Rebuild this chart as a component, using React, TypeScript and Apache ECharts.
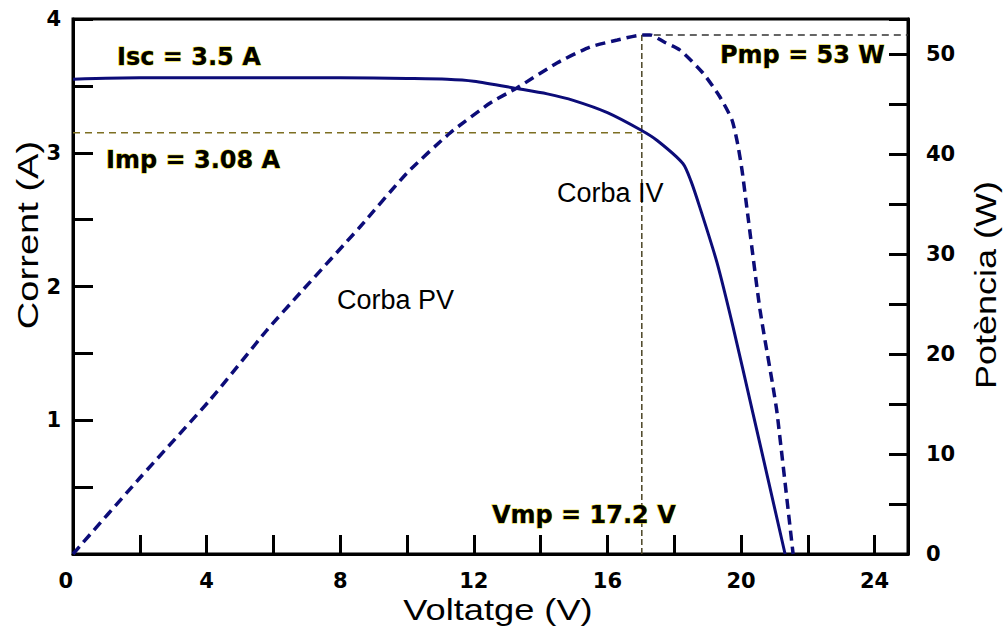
import React, { useEffect, useRef } from "react";
import * as echarts from "echarts";

// I-V curve (voltage in V, current in A)
const ivVoltage = [0, 2, 4, 6, 8, 10, 11.2, 12, 13.3, 14.2, 15, 16, 17, 17.5, 18.26, 18.5, 18.77, 19.28, 19.76, 20.36, 21.32];
const ivCurrent = [3.55, 3.56, 3.56, 3.56, 3.56, 3.555, 3.55, 3.535, 3.48, 3.44, 3.39, 3.3, 3.17, 3.09, 2.92, 2.79, 2.59, 2.18, 1.7, 1.05, 0];

// P-V curve (voltage in V, power in W)
const pvVoltage = [0, 2, 4.1, 5.81, 6.8, 8.59, 10, 11.29, 12.49, 13.29, 14.49, 15.48, 16.3, 17.04, 17.28, 17.7, 18.17, 18.86, 19.37, 19.73, 19.9, 20.03, 20.18, 20.57, 20.96, 21.08, 21.56];
const pvPower = [0, 7.6, 15.4, 22.4, 26.1, 32.7, 38.1, 42.1, 45.1, 46.6, 49.1, 50.7, 51.4, 51.9, 51.9, 51.2, 50.4, 48.1, 45.7, 43.4, 41, 38.4, 34.5, 24.4, 16.7, 14.1, 0];

// Maximum-power-point guide lines (as drawn)
const mppVoltage = 17.03;
const mppCurrent = 3.15;
const mppPower = 51.9;
const maxVoltage = 25;

// Axis settings
const xTickStep = 2;
const xLabelStep = 4;
const iTickStep = 0.5;
const pTickStep = 5;
const pLabelStep = 10;

// Annotation texts
const iscText = "Isc = 3.5 A";
const impText = "Imp = 3.08 A";
const pmpText = "Pmp = 53 W";
const vmpText = "Vmp = 17.2 V";
const ivName = "Corba IV";
const pvName = "Corba PV";
const xName = "Voltatge (V)";
const yLeftName = "Corrent (A)";
const yRightName = "Potència (W)";

const NAVY = "#0c0c78";
const tickFont = { fontFamily: "DejaVu Sans", fontWeight: "bold" as const, fontSize: 21, color: "#000" };

export default function App() {
  const ref = useRef<HTMLDivElement>(null);
  useEffect(() => {
    if (!ref.current) return;
    const chart = echarts.init(ref.current, null, { renderer: "svg" });
    const boldStyle = (text: string) => ({
      text,
      fontFamily: "DejaVu Sans",
      fontWeight: "bold",
      fontSize: 24,
      fill: "#000",
      stroke: "#e2d000",
      lineWidth: 1,
      verticalAlign: "middle",
    });
    const plainStyle = (text: string, size: number) => ({
      text,
      fontFamily: "Liberation Sans",
      fontSize: size,
      fill: "#000",
      verticalAlign: "middle",
    });
    chart.setOption({
      animation: false,
      backgroundColor: "#fff",
      grid: { left: 73, right: 98, top: 19, bottom: 78, show: true, borderColor: "#000", borderWidth: 3 },
      xAxis: {
        type: "value",
        min: 0,
        max: maxVoltage,
        interval: xTickStep,
        axisLine: { show: true, onZero: false, lineStyle: { color: "#000", width: 3 } },
        axisTick: { show: true, inside: true, length: 19, lineStyle: { color: "#000", width: 3 } },
        splitLine: { show: false },
        axisLabel: {
          ...tickFont,
          margin: 16,
          alignMinLabel: "right",
          formatter: (v: number) => (Math.abs(v % xLabelStep) < 1e-9 ? String(v) : ""),
        },
      },
      yAxis: [
        {
          type: "value",
          min: 0,
          max: 4,
          interval: iTickStep,
          position: "left",
          axisLine: { show: true, onZero: false, lineStyle: { color: "#000", width: 3 } },
          axisTick: { show: true, inside: true, length: 20, lineStyle: { color: "#000", width: 3 } },
          splitLine: { show: false },
          axisLabel: {
            ...tickFont,
            margin: 12,
            showMinLabel: false,
            formatter: (v: number) => (Math.abs(v % 1) < 1e-9 && v > 0 ? String(v) : ""),
          },
        },
        {
          type: "value",
          min: 0,
          max: 53.5,
          interval: pTickStep,
          position: "right",
          axisLine: { show: true, onZero: false, lineStyle: { color: "#000", width: 3 } },
          axisTick: { show: true, inside: true, length: 19, lineStyle: { color: "#000", width: 3 } },
          splitLine: { show: false },
          axisLabel: {
            ...tickFont,
            margin: 18,
            formatter: (v: number) => (Math.abs(v % pLabelStep) < 1e-9 ? String(v) : ""),
          },
        },
      ],
      series: [
        {
          type: "line",
          name: "Imp",
          yAxisIndex: 0,
          data: [[0, mppCurrent], [mppVoltage, mppCurrent]],
          showSymbol: false,
          lineStyle: { color: "#7d6f22", width: 1.5, type: [7, 5] },
          z: 1,
        },
        {
          type: "line",
          name: "Vmp",
          yAxisIndex: 1,
          data: [[mppVoltage, 0], [mppVoltage, mppPower]],
          showSymbol: false,
          lineStyle: { color: "#4a4424", width: 1.5, type: [6, 3] },
          z: 1,
        },
        {
          type: "line",
          name: "Pmp",
          yAxisIndex: 1,
          data: [[mppVoltage, mppPower], [maxVoltage, mppPower]],
          showSymbol: false,
          lineStyle: { color: "#333", width: 1.5, type: [7, 5] },
          z: 1,
        },
        {
          type: "line",
          name: ivName,
          yAxisIndex: 0,
          data: ivVoltage.map((v, i) => [v, ivCurrent[i]]),
          showSymbol: false,
          smooth: 0.25,
          lineStyle: { color: NAVY, width: 3 },
          z: 3,
        },
        {
          type: "line",
          name: pvName,
          yAxisIndex: 1,
          data: pvVoltage.map((v, i) => [v, pvPower[i]]),
          showSymbol: false,
          smooth: 0.2,
          lineStyle: { color: NAVY, width: 3.5, type: [10, 6] },
          z: 3,
        },
      ],
      graphic: [
        { type: "text", x: 117, y: 57, style: boldStyle(iscText), z: 10 },
        { type: "text", x: 106, y: 160, style: boldStyle(impText), z: 10 },
        { type: "text", x: 720, y: 55, style: boldStyle(pmpText), z: 10 },
        { type: "text", x: 492, y: 515, style: boldStyle(vmpText), z: 10 },
        { type: "text", x: 337, y: 300, style: plainStyle(pvName, 27), z: 10 },
        { type: "text", x: 557, y: 193, style: plainStyle(ivName, 27), z: 10 },
        {
          type: "text",
          x: 498,
          y: 610,
          scaleX: 1.25,
          style: { ...plainStyle(xName, 29), align: "center" },
          z: 10,
        },
        {
          type: "text",
          x: 28,
          y: 235,
          rotation: Math.PI / 2,
          scaleX: 1.27,
          style: { ...plainStyle(yLeftName, 30), align: "center" },
          z: 10,
        },
        {
          type: "text",
          x: 986,
          y: 285,
          rotation: Math.PI / 2,
          scaleX: 1.2,
          style: { ...plainStyle(yRightName, 30), align: "center" },
          z: 10,
        },
      ],
    });
    return () => chart.dispose();
  }, []);
  return (
    <div
      ref={ref}
      style={{ position: "absolute", left: 0, top: 0, width: 1006, height: 632, background: "#fff" }}
    />
  );
}
